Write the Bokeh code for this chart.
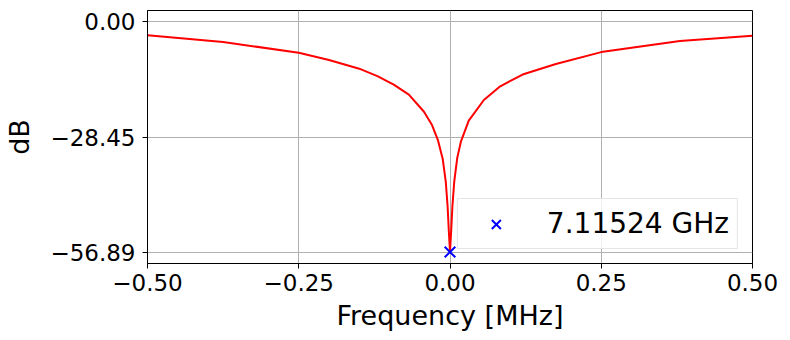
from bokeh.plotting import figure
from bokeh.models import Range1d, FixedTicker, CustomJSTickFormatter
from bokeh.embed import file_html
from bokeh.resources import INLINE

# frequency offset from resonance [MHz] and transmission [dB]
freq_mhz = [-0.5, -0.375, -0.25, -0.2, -0.15, -0.12, -0.093, -0.068, -0.043,
            -0.03, -0.02, -0.012, -0.007, -0.004, -0.002, 0.0,
            0.002, 0.004, 0.007, 0.012, 0.018, 0.031, 0.056, 0.083,
            0.12, 0.175, 0.25, 0.38, 0.5]
s21_db = [-3.29, -4.95, -7.6, -9.4, -11.55, -13.4, -15.5, -17.95, -22.2,
          -25.4, -29.2, -33.9, -39.5, -45.5, -51.5, -56.89,
          -51.5, -45.5, -39.5, -33.6, -29.6, -24.4, -19.3, -15.9,
          -13.0, -10.4, -7.45, -4.72, -3.38]

res_freq = [0.0]
res_db = [-56.89]
res_label = "7.11524 GHz"

x_ticks = [-0.5, -0.25, 0.0, 0.25, 0.5]
y_ticks = [0.0, -28.45, -56.89]

FONT = "DejaVu Sans"

p = figure(width=790, height=340, output_backend="svg", toolbar_location=None,
           x_range=Range1d(-0.5, 0.5), y_range=Range1d(-59.73, 2.84),
           min_border_left=147, min_border_right=38,
           min_border_top=10, min_border_bottom=77,
           background_fill_color="white", border_fill_color="white")

p.line(freq_mhz, s21_db, line_color="#ff0000", line_width=2)
p.scatter(res_freq, res_db, marker="x", size=15, line_color="#0000ff",
          line_width=2, legend_label=res_label)

fmt = CustomJSTickFormatter(code="return tick.toFixed(2).replace('-', '\u2212');")

p.xaxis.ticker = FixedTicker(ticks=x_ticks)
p.yaxis.ticker = FixedTicker(ticks=y_ticks)
p.xaxis.formatter = fmt
p.yaxis.formatter = fmt

for ax in (p.xaxis, p.yaxis):
    ax.minor_tick_line_color = None
    ax.major_tick_in = 0
    ax.major_tick_out = 5
    ax.major_tick_line_width = 1
    ax.major_tick_line_color = "black"
    ax.axis_line_color = "black"
    ax.axis_line_width = 1
    ax.major_label_text_font = FONT
    ax.major_label_text_font_size = "23px"
    ax.major_label_text_color = "black"
    ax.axis_label_text_font = FONT
    ax.axis_label_text_font_size = "27px"
    ax.axis_label_text_font_style = "normal"
    ax.axis_label_text_color = "black"

p.xaxis.axis_label = "Frequency [MHz]"
p.yaxis.axis_label = "dB"
p.xaxis.major_label_standoff = 5
p.yaxis.major_label_standoff = 7
p.xaxis.axis_label_standoff = 6
p.yaxis.axis_label_standoff = 12

p.grid.grid_line_color = "#b0b0b0"
p.grid.grid_line_width = 1
p.outline_line_color = "black"
p.outline_line_width = 1

lg = p.legend[0]
lg.location = "bottom_right"
lg.margin = 14
lg.padding = 8
lg.glyph_width = 60
lg.glyph_height = 32
lg.label_height = 32
lg.label_standoff = 21
lg.label_text_font = FONT
lg.label_text_font_size = "28px"
lg.label_text_color = "black"
lg.border_line_color = "#cccccc"
lg.border_line_width = 1
lg.background_fill_alpha = 0.8

open("out.html", "w").write(file_html(p, INLINE))
